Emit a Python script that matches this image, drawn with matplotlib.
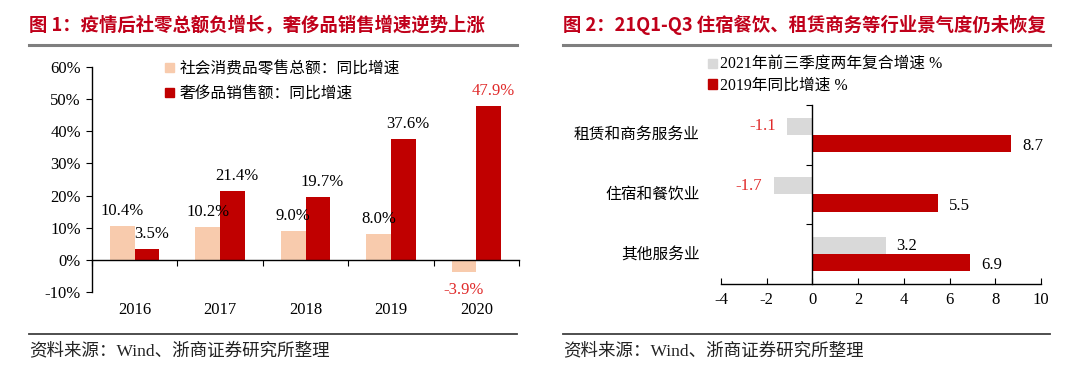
import matplotlib
matplotlib.use("Agg")
import matplotlib.pyplot as plt
from matplotlib.patches import Patch
from matplotlib.lines import Line2D
import numpy as np

# ---- data ----
years = ["2016", "2017", "2018", "2019", "2020"]
retail_growth = [10.4, 10.2, 9.0, 8.0, -3.9]
luxury_growth = [3.5, 21.4, 19.7, 37.6, 47.9]
retail_name = "社会消费品零售总额：同比增速"
luxury_name = "奢侈品销售额：同比增速"
left_yticks = [-10, 0, 10, 20, 30, 40, 50, 60]

industries = ["租赁和商务服务业", "住宿和餐饮业", "其他服务业"]
growth_2021 = [-1.1, -1.7, 3.2]
growth_2019 = [8.7, 5.5, 6.9]
name_2021 = "2021年前三季度两年复合增速 %"
name_2019 = "2019年同比增速 %"
right_xticks = [-4, -2, 0, 2, 4, 6, 8, 10]

title1 = "图 1：疫情后社零总额负增长，奢侈品销售增速逆势上涨"
title2 = "图 2：21Q1-Q3 住宿餐饮、租赁商务等行业景气度仍未恢复"
source = "资料来源：Wind、浙商证券研究所整理"

# ---- style ----
PEACH = "#F8CBAD"
DARK_RED = "#C00000"
GREY = "#D9D9D9"
LABEL_RED = "#E02A2A"
TITLE_RED = "#C0001A"
SERIF = ["Liberation Serif", "Noto Sans CJK SC"]
CJK = ["Noto Sans CJK SC", "DejaVu Sans"]
FS = 12      # numbers
FS_CN = 11.3  # chinese labels

plt.rcParams["font.family"] = SERIF
plt.rcParams["axes.linewidth"] = 1.0

W, H = 1080, 377
fig = plt.figure(figsize=(10.8, 3.77), dpi=100)


def px_axes(x0, y0, x1, y1):
    # pixel box (top-left origin) -> figure fraction rect
    return [x0 / W, 1 - y1 / H, (x1 - x0) / W, (y1 - y0) / H]


# ---- titles, rules, sources ----
for x0, x1, t in [(29, 517, title1), (563, 1050, title2)]:
    fig.text(x0 / W, 1 - 25 / H, t, family=CJK, fontsize=13.2,
             fontweight="bold", color=TITLE_RED, va="center", ha="left")
    fig.add_artist(Line2D([x0 / W, x1 / W], [1 - 45 / H] * 2, color="#7F7F7F", lw=2.2))
    fig.add_artist(Line2D([x0 / W, x1 / W], [1 - 334 / H] * 2, color="#404040", lw=1.3))
    fig.text(x0 / W, 1 - 351 / H, source, family=SERIF, fontsize=12.6,
             color="#222222", va="center", ha="left")

# ---- left chart ----
ax1 = fig.add_axes(px_axes(92, 67, 519, 292))
x = np.arange(len(years))
w = 0.29
b1 = ax1.bar(x - w / 2, retail_growth, w, color=PEACH)
b2 = ax1.bar(x + w / 2, luxury_growth, w, color=DARK_RED)
ax1.set_xlim(-0.5, len(years) - 0.5)
ax1.set_ylim(-10, 60)
ax1.set_yticks(left_yticks)
ax1.set_yticklabels([f"{v}%" for v in left_yticks], fontsize=FS)
ax1.spines["top"].set_visible(False)
ax1.spines["right"].set_visible(False)
ax1.spines["bottom"].set_position(("data", 0))
ax1.set_xticks(np.arange(len(years) + 1) - 0.5)
ax1.set_xticklabels([])
ax1.tick_params(axis="x", direction="out", length=4)
ax1.tick_params(axis="y", direction="out", length=4, pad=4)
tr1 = ax1.get_xaxis_transform()
for xi, yr in zip(x, years):
    ax1.text(xi, -0.08, yr, transform=tr1, ha="center", va="center", fontsize=FS)

for rect, v in zip(b1, retail_growth):
    cx = rect.get_x() + rect.get_width() / 2
    if v >= 0:
        ax1.annotate(f"{v:.1f}%", (cx, v), xytext=(0, 5), textcoords="offset points",
                     ha="center", va="bottom", fontsize=FS, color="black")
    else:
        ax1.annotate(f"{v:.1f}%", (cx, v), xytext=(0, -7), textcoords="offset points",
                     ha="center", va="top", fontsize=FS, color=LABEL_RED)
for i, (rect, v) in enumerate(zip(b2, luxury_growth)):
    cx = rect.get_x() + rect.get_width() / 2
    col = LABEL_RED if i == len(luxury_growth) - 1 else "black"
    ax1.annotate(f"{v:.1f}%", (cx, v), xytext=(3, 5), textcoords="offset points",
                 ha="center", va="bottom", fontsize=FS, color=col)

ax1.legend([Patch(color=PEACH), Patch(color=DARK_RED)], [retail_name, luxury_name],
           loc="upper left", bbox_to_anchor=(165 / W, 1 - 60 / H),
           bbox_transform=fig.transFigure, frameon=False, prop={"family": CJK, "size": FS_CN},
           handlelength=0.55, handleheight=0.55, handletextpad=0.35, labelspacing=0.5,
           borderpad=0, borderaxespad=0)

# ---- right chart ----
ax2 = fig.add_axes(px_axes(721, 105, 1041, 284))
y = np.arange(len(industries))
h = 0.285
g1 = ax2.barh(y - h / 2, growth_2021, h, color=GREY)
g2 = ax2.barh(y + h / 2, growth_2019, h, color=DARK_RED)
ax2.set_xlim(-4, 10)
ax2.set_ylim(len(industries) - 0.5, -0.5)
ax2.set_xticks(right_xticks)
ax2.set_xticklabels([str(v) for v in right_xticks], fontsize=FS)
ax2.spines["top"].set_visible(False)
ax2.spines["right"].set_visible(False)
ax2.spines["left"].set_position(("data", 0))
ax2.set_yticks(np.arange(len(industries)) - 0.5)
ax2.set_yticklabels([])
ax2.tick_params(axis="y", direction="out", length=4)
ax2.tick_params(axis="x", direction="in", length=4, pad=6)
tr2 = ax2.get_yaxis_transform()
for yi, name in zip(y, industries):
    ax2.text(-0.066, yi, name, transform=tr2, ha="right", va="center",
             family=CJK, fontsize=FS_CN)

for rect, v in zip(g1, growth_2021):
    cy = rect.get_y() + rect.get_height() / 2
    if v < 0:
        ax2.annotate(f"{v:.1f}", (v, cy), xytext=(-8, 0), textcoords="offset points",
                     ha="right", va="center", fontsize=FS, color=LABEL_RED)
    else:
        ax2.annotate(f"{v:.1f}", (v, cy), xytext=(8, 0), textcoords="offset points",
                     ha="left", va="center", fontsize=FS, color="black")
for rect, v in zip(g2, growth_2019):
    cy = rect.get_y() + rect.get_height() / 2
    ax2.annotate(f"{v:.1f}", (v, cy), xytext=(8, -2), textcoords="offset points",
                 ha="left", va="center", fontsize=FS, color="black")

ax2.legend([Patch(color=GREY), Patch(color=DARK_RED)], [name_2021, name_2019],
           loc="upper left", bbox_to_anchor=(708 / W, 1 - 57 / H),
           bbox_transform=fig.transFigure, frameon=False, prop={"family": SERIF, "size": FS_CN},
           handlelength=0.55, handleheight=0.55, handletextpad=0.2, labelspacing=0.3,
           borderpad=0, borderaxespad=0)

fig.savefig("out.png", dpi=100, facecolor="white")
